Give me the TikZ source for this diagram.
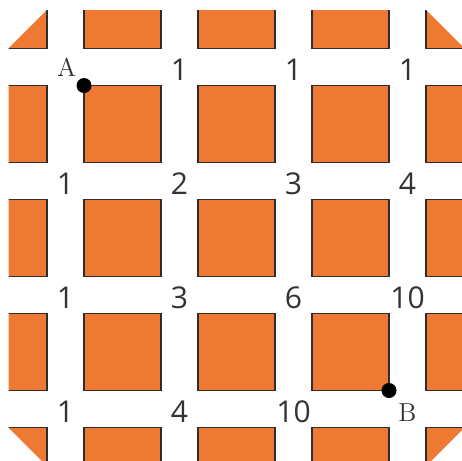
\documentclass[tikz,border=0pt]{standalone}
\usepackage{fontspec}
\newfontfamily\numfont{Open Sans}
\definecolor{tileorange}{RGB}{237,121,50}
\definecolor{tileedge}{RGB}{45,45,45}

\begin{document}
\begin{tikzpicture}[scale=2,
    tile/.style={fill=tileorange, draw=tileedge, line width=0.8pt},
    num/.style={font=\numfont\fontsize{15}{15}\selectfont, text=black!80},
    letter/.style={font=\fontsize{13}{13}\selectfont, text=black!80}]
    \useasboundingbox (-0.5746,-3.456) rectangle (3.478,0.5877);

    % 方块（四角切去）
    \begin{scope}
        \clip (-0.5,0.1625) -- (-0.1625,0.5) -- (3.1625,0.5) -- (3.5,0.1625)
            -- (3.5,-3.1625) -- (3.1625,-3.5) -- (-0.1625,-3.5) -- (-0.5,-3.1625) -- cycle;
        \foreach \x in {-0.5,0.5,...,3.5}
            \foreach \y in {0.5,-0.5,...,-3.5}
                \draw[tile] (\x-0.3375,\y-0.3375) rectangle (\x+0.3375,\y+0.3375);
    \end{scope}

    % 起点 A
    \fill (0.1625,-0.1625) circle (0.066);
    \node[letter] (A) at (0.01,0) {A};

    % 终点 B
    \fill (2.8375,-2.8375) circle (0.066);
    \node[letter] (B) at (3,-3.03) {B};

    % 路径数
    \node[num] (n10) at (1,-0.02) {1};
    \node[num] (n20) at (2,-0.02) {1};
    \node[num] (n30) at (3,-0.02) {1};
    \node[num] (n01) at (0,-1.02) {1};
    \node[num] (n11) at (1,-1.02) {2};
    \node[num] (n21) at (2,-1.02) {3};
    \node[num] (n31) at (3,-1.02) {4};
    \node[num] (n02) at (0,-2.02) {1};
    \node[num] (n12) at (1,-2.02) {3};
    \node[num] (n22) at (2,-2.02) {6};
    \node[num] (n32) at (3,-2.02) {10};
    \node[num] (n03) at (0,-3.02) {1};
    \node[num] (n13) at (1,-3.02) {4};
    \node[num] (n23) at (2,-3.02) {10};
\end{tikzpicture}
\end{document}
